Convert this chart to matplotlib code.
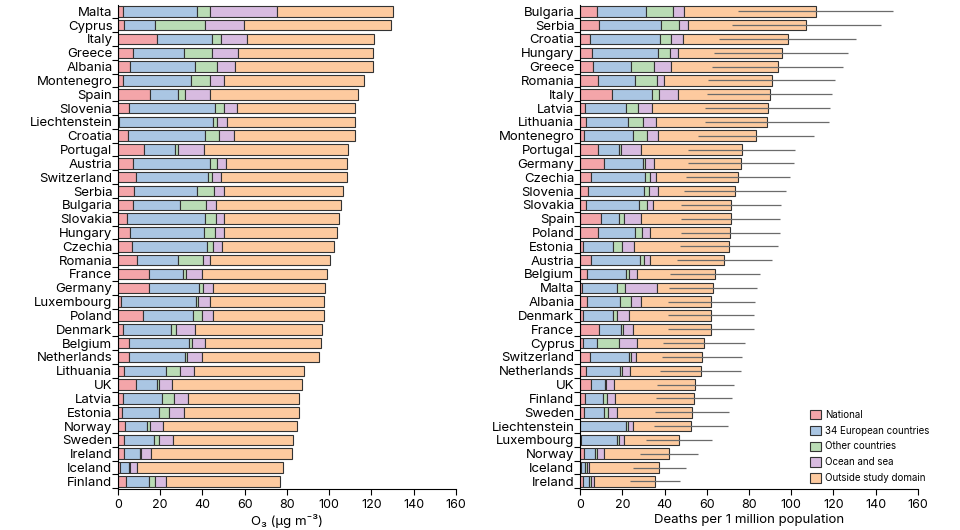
import numpy as np
import matplotlib
matplotlib.use("Agg")
import matplotlib.pyplot as plt
from matplotlib.patches import Patch

plt.rcParams['font.family'] = ['Inter', 'DejaVu Sans']

# sources of the O3 concentration / deaths
sources = ['National', '34 European countries', 'Other countries',
           'Ocean and sea', 'Outside study domain']
colors = ['#f4a5a9', '#aac6e3', '#badcb5', '#d8bbe0', '#fdca9f']

# left panel: O3 (ug m-3), top to bottom
o3_countries = ['Malta', 'Cyprus', 'Italy', 'Greece', 'Albania', 'Montenegro',
                'Spain', 'Slovenia', 'Liechtenstein', 'Croatia', 'Portugal',
                'Austria', 'Switzerland', 'Serbia', 'Bulgaria', 'Slovakia',
                'Hungary', 'Czechia', 'Romania', 'France', 'Germany',
                'Luxembourg', 'Poland', 'Denmark', 'Belgium', 'Netherlands',
                'Lithuania', 'UK', 'Latvia', 'Estonia', 'Norway', 'Sweden',
                'Ireland', 'Iceland', 'Finland']
o3_national = [2.2, 2.7, 18.4, 6.9, 5.5, 2.2, 15.3, 5.2, 0.5, 4.6, 12.1, 7.1,
               8.4, 7.4, 6.9, 4.3, 5.8, 6.8, 9.1, 14.5, 14.7, 1.4, 11.8, 2.2,
               5.2, 5.2, 2.8, 8.4, 2.4, 1.7, 3.2, 2.8, 2.8, 1.1, 3.6]
o3_europe = [35.0, 14.6, 26.1, 24.2, 30.9, 32.3, 13.1, 40.7, 44.6, 36.7, 14.7,
             36.7, 34.2, 29.8, 22.4, 36.7, 34.7, 35.3, 19.3, 16.4, 23.6, 35.5,
             23.5, 22.9, 28.4, 26.3, 20.1, 10.1, 18.4, 17.7, 10.4, 14.4, 7.4,
             4.1, 11.1]
o3_other = [6.6, 24.0, 4.5, 13.5, 10.4, 9.0, 3.1, 4.1, 1.9, 6.5, 1.6, 2.9, 1.7,
            8.4, 12.3, 5.2, 5.4, 2.7, 11.7, 1.3, 1.8, 1.1, 4.6, 2.3, 1.4, 1.0,
            6.7, 0.9, 5.7, 4.7, 1.5, 2.2, 0.7, 0.6, 3.0]
o3_ocean = [31.7, 18.6, 12.0, 12.0, 8.5, 6.6, 11.9, 6.3, 4.6, 7.2, 12.3, 4.4,
            4.7, 4.4, 4.8, 4.1, 4.1, 4.4, 3.7, 7.4, 5.0, 5.4, 4.9, 9.0, 6.0,
            7.1, 6.2, 6.1, 6.6, 7.1, 6.0, 6.6, 4.7, 3.0, 5.2]
o3_outside = [54.9, 69.4, 60.4, 64.3, 65.3, 66.4, 70.3, 56.1, 60.4, 57.0, 68.4,
              57.5, 59.2, 56.4, 59.4, 54.2, 53.9, 53.0, 56.8, 59.4, 53.1, 54.0,
              52.6, 60.1, 55.3, 55.5, 52.5, 61.7, 52.8, 54.4, 63.7, 57.1, 66.6,
              69.1, 54.0]

# right panel: deaths per 1 million population, top to bottom
d_countries = ['Bulgaria', 'Serbia', 'Croatia', 'Hungary', 'Greece', 'Romania',
               'Italy', 'Latvia', 'Lithuania', 'Montenegro', 'Portugal',
               'Germany', 'Czechia', 'Slovenia', 'Slovakia', 'Spain', 'Poland',
               'Estonia', 'Austria', 'Belgium', 'Malta', 'Albania', 'Denmark',
               'France', 'Cyprus', 'Switzerland', 'Netherlands', 'UK',
               'Finland', 'Sweden', 'Liechtenstein', 'Luxembourg', 'Norway',
               'Iceland', 'Ireland']
d_national = [8.2, 8.8, 4.7, 5.7, 6.1, 8.7, 15.3, 2.4, 3.0, 1.9, 8.5, 11.3,
              5.2, 3.8, 2.8, 9.9, 8.5, 1.4, 5.2, 3.5, 0.9, 3.1, 1.4, 9.0, 1.4,
              4.7, 3.0, 5.2, 2.4, 1.9, 0.2, 0.6, 1.9, 0.3, 1.3]
d_europe = [23.1, 29.6, 33.1, 31.3, 18.2, 17.3, 18.9, 19.3, 19.8, 23.1, 9.8,
            18.5, 25.7, 26.4, 25.2, 8.7, 17.5, 14.3, 23.3, 18.5, 16.7, 16.0,
            14.3, 10.4, 6.5, 18.4, 15.9, 6.6, 8.3, 9.4, 21.7, 17.0, 5.3, 2.2,
            3.1]
d_other = [12.6, 8.4, 5.3, 5.4, 10.5, 10.5, 3.1, 5.9, 7.0, 6.7, 1.2, 1.1, 2.0,
           2.6, 3.7, 2.0, 3.4, 4.0, 1.9, 1.0, 3.7, 5.2, 1.6, 1.1, 10.7, 1.2,
           1.1, 0.6, 2.2, 1.8, 0.8, 1.0, 0.8, 0.8, 0.6]
d_ocean = [5.2, 4.4, 5.6, 3.9, 8.3, 3.2, 9.0, 6.7, 6.1, 5.2, 9.3, 4.1, 3.0, 4.1,
           2.8, 8.4, 3.7, 5.8, 2.8, 4.1, 15.2, 4.7, 5.8, 4.7, 8.3, 2.3, 3.8,
           3.8, 3.8, 4.4, 2.2, 2.2, 3.3, 1.1, 1.8]
d_outside = [62.4, 56.0, 49.6, 49.1, 50.4, 51.0, 43.5, 54.8, 52.8, 46.4, 47.7,
             41.1, 38.7, 36.3, 37.2, 42.3, 37.9, 44.9, 35.0, 36.8, 26.6, 33.2,
             38.8, 36.7, 31.7, 31.0, 33.4, 38.4, 37.3, 35.4, 27.5, 26.1, 30.7,
             33.2, 28.6]
d_low = [74.6, 71.8, 65.7, 63.6, 62.5, 60.6, 60.0, 59.4, 59.2, 55.7, 51.0, 50.9,
         50.1, 49.0, 47.9, 47.6, 47.6, 47.1, 45.7, 42.8, 42.0, 41.6, 41.6, 41.6,
         39.2, 38.6, 38.1, 36.5, 36.1, 35.4, 35.0, 31.2, 28.2, 24.9, 23.6]
d_high = [148.2, 142.7, 130.6, 126.8, 124.3, 120.6, 119.2, 118.4, 118.0, 110.7,
          101.6, 101.1, 99.4, 97.3, 95.1, 94.6, 94.6, 93.9, 90.9, 85.4, 83.9,
          82.7, 82.5, 82.4, 78.0, 76.9, 76.1, 72.9, 72.0, 70.6, 69.9, 62.5,
          55.9, 50.2, 47.2]


def stacked(ax, names, parts, xlabel):
    y = np.arange(len(names))
    left = np.zeros(len(names))
    for vals, c in zip(parts, colors):
        ax.barh(y, vals, left=left, height=0.76, color=c,
                edgecolor='#333333', linewidth=0.8, zorder=2)
        left += np.array(vals)
    ax.set_yticks(y)
    ax.set_yticklabels(names, fontsize=9.5)
    ax.set_yticks(np.arange(len(names) + 1) - 0.5, minor=True)
    ax.tick_params(axis='y', which='major', length=0, pad=4)
    ax.tick_params(axis='y', which='minor', length=4, width=0.8)
    ax.tick_params(axis='x', labelsize=9, length=4, width=0.8)
    ax.set_ylim(len(names) - 0.45, -0.45)
    ax.set_xlim(0, 160)
    ax.set_xticks(np.arange(0, 161, 20))
    ax.set_xlabel(xlabel, fontsize=9.5, labelpad=2)
    for s in ['top', 'right']:
        ax.spines[s].set_visible(False)
    for s in ['left', 'bottom']:
        ax.spines[s].set_linewidth(0.8)
    return y


fig = plt.figure(figsize=(9.6, 5.3), dpi=100)
ax1 = fig.add_axes([0.1229, 0.0774, 0.352, 0.913])
ax2 = fig.add_axes([0.6042, 0.0774, 0.352, 0.913])

stacked(ax1, o3_countries, [o3_national, o3_europe, o3_other, o3_ocean, o3_outside],
        'O₃ (μg m⁻³)')
y2 = stacked(ax2, d_countries, [d_national, d_europe, d_other, d_ocean, d_outside],
             'Deaths per 1 million population')
ax2.hlines(y2, d_low, d_high, color='#6b6b6b', linewidth=0.9, zorder=3)

handles = [Patch(facecolor=c, edgecolor='#333333', linewidth=0.8, label=s)
           for c, s in zip(colors, sources)]
ax2.legend(handles=handles, loc='lower left', bbox_to_anchor=(0.663, 0.0),
           frameon=False, fontsize=7.0, handlelength=1.1, handleheight=1.1,
           handletextpad=0.5, labelspacing=0.6, borderaxespad=0.2)

fig.savefig('out.png', dpi=100)
